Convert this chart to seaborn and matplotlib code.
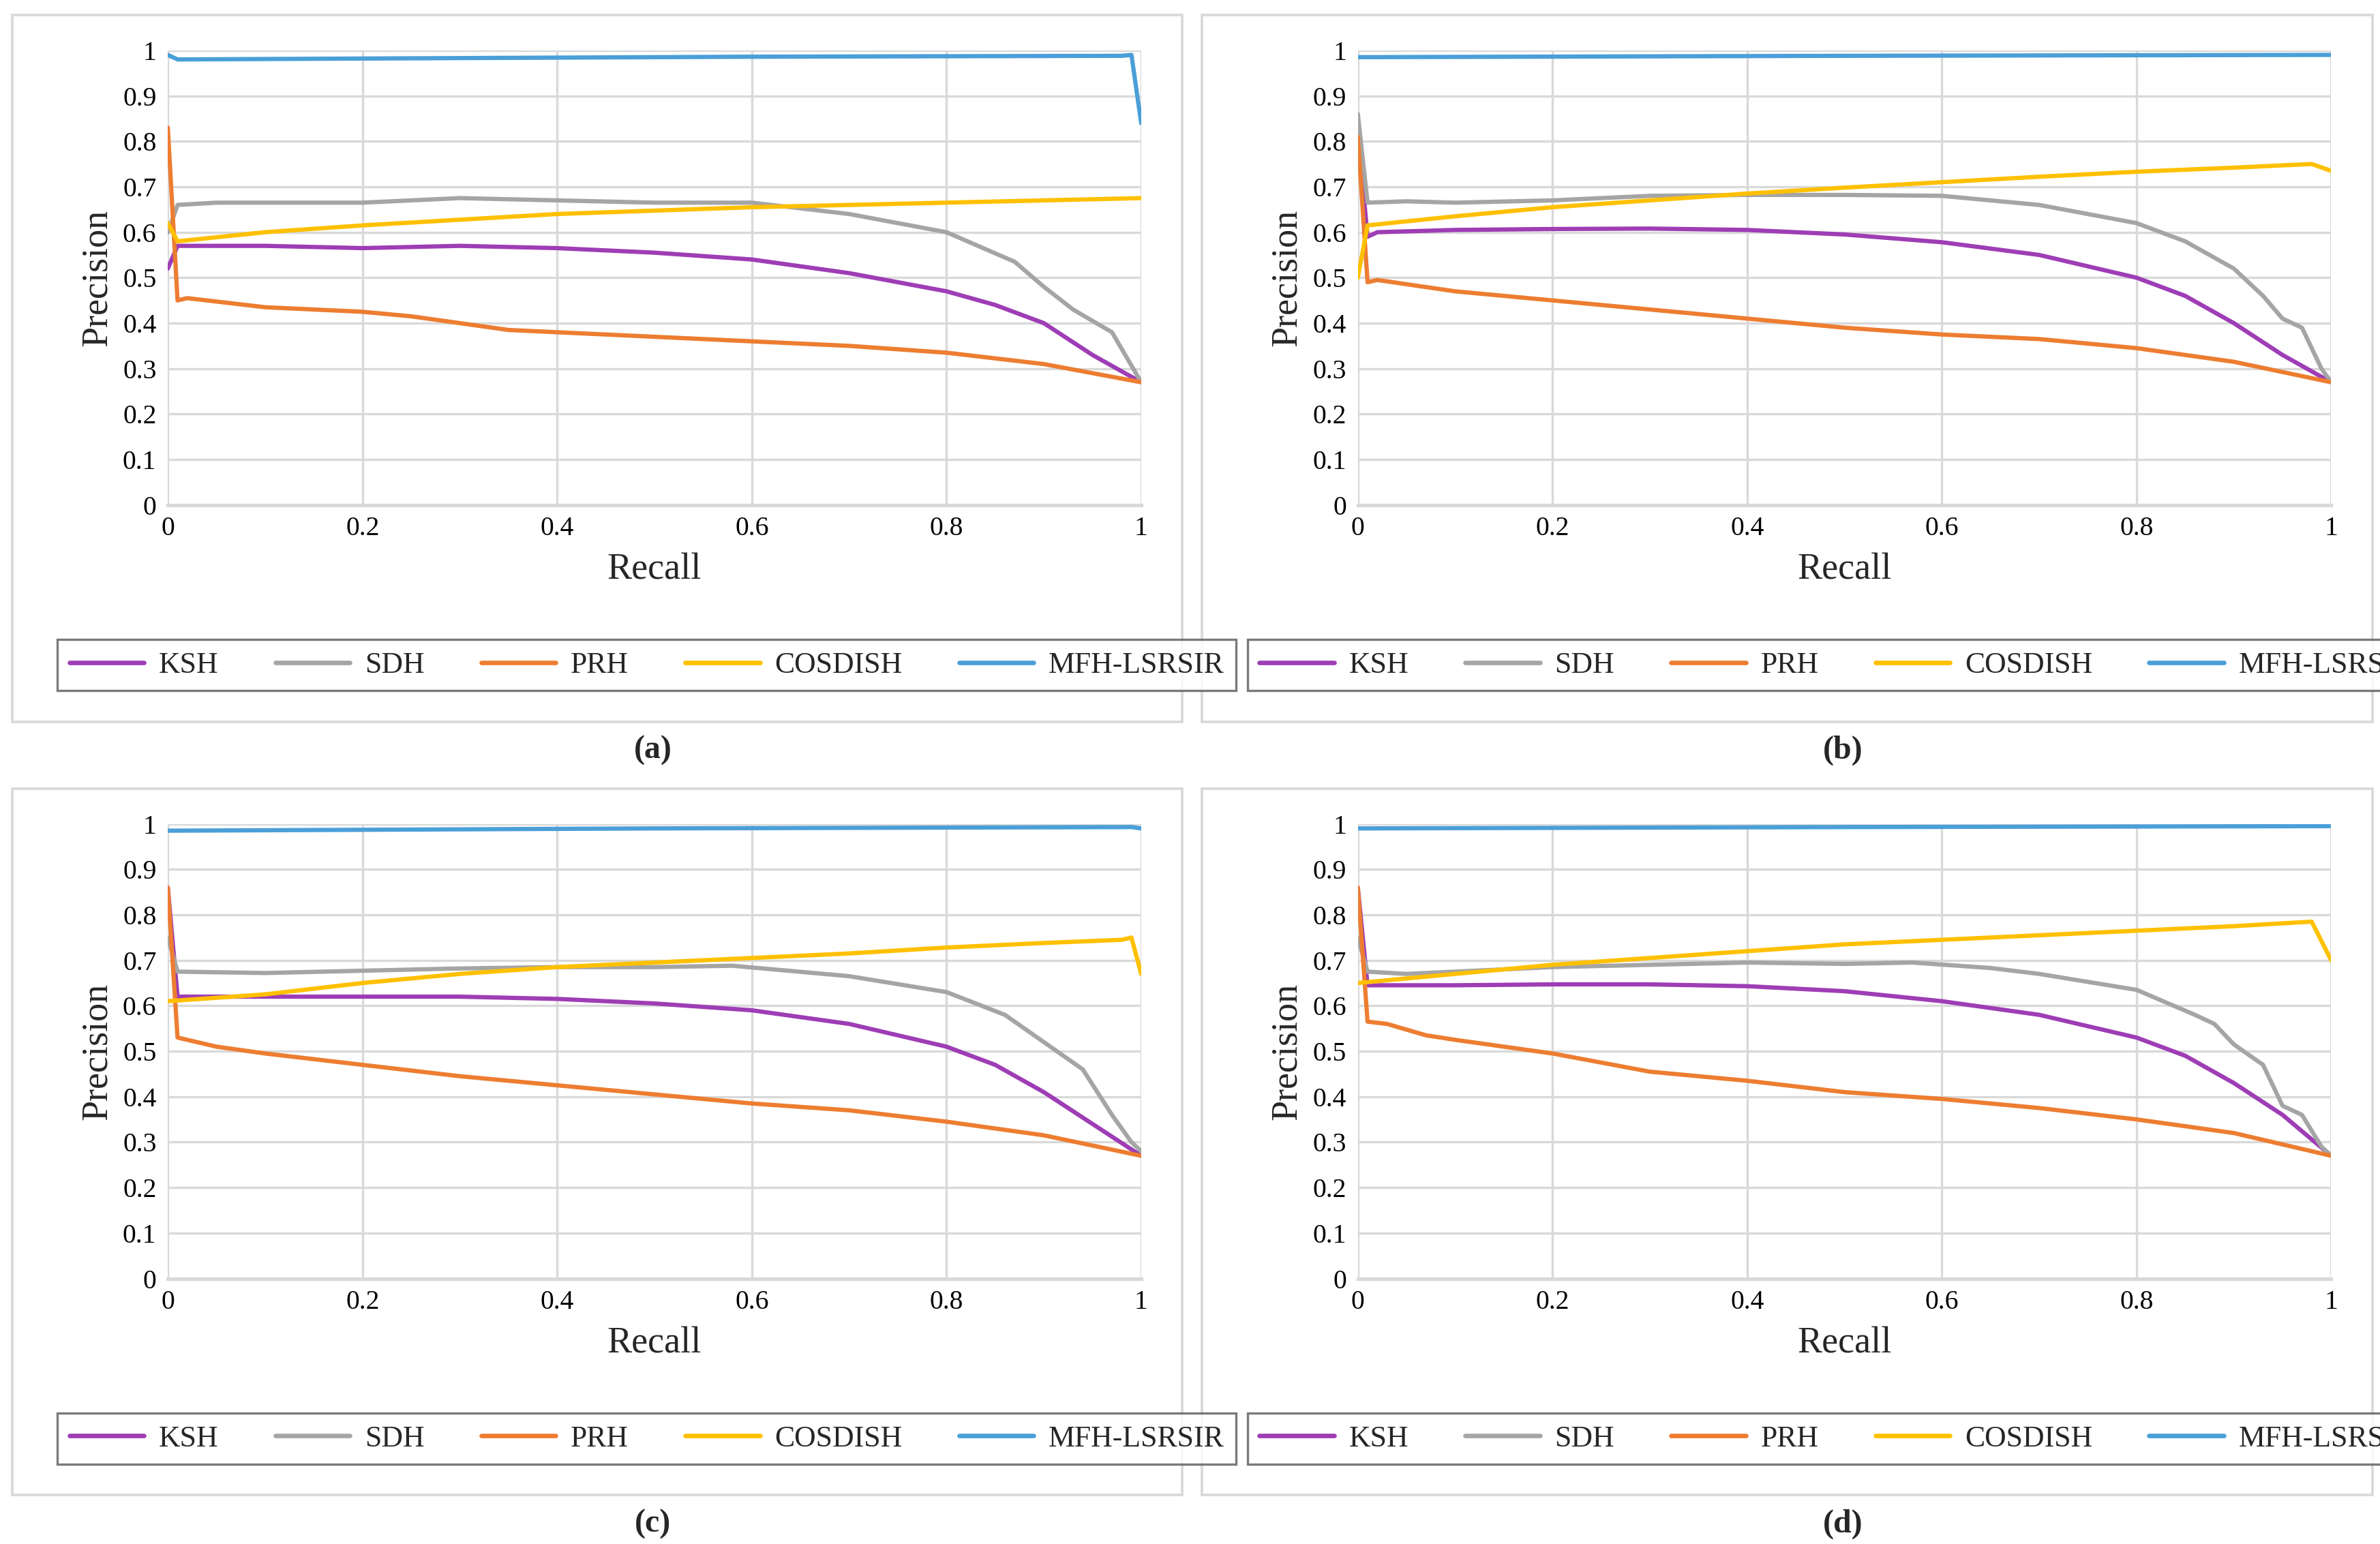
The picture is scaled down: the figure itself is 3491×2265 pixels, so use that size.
import numpy as np
import pandas as pd
import matplotlib.pyplot as plt
import seaborn as sns
from matplotlib.patches import Rectangle

sns.set_theme(style="white")
plt.rcParams['font.family'] = ['Liberation Serif', 'DejaVu Serif']

methods = ['KSH', 'SDH', 'PRH', 'COSDISH', 'MFH-LSRSIR']
colors = {'KSH': '#9E3DB5', 'SDH': '#A5A5A5', 'PRH': '#ED7D31',
          'COSDISH': '#FFC000', 'MFH-LSRSIR': '#4A9FD8'}

# --- data per panel: (recall, precision) ---
a_ksh_r = [0, .01, .05, .1, .2, .3, .4, .5, .6, .7, .8, .85, .9, .95, 1]
a_ksh_p = [.52, .57, .57, .57, .565, .57, .565, .555, .54, .51, .47, .44, .40, .33, .27]
a_sdh_r = [0, .01, .05, .1, .2, .3, .4, .5, .6, .7, .8, .87, .9, .93, .97, 1]
a_sdh_p = [.60, .66, .665, .665, .665, .675, .67, .665, .665, .64, .60, .535, .48, .43, .38, .27]
a_prh_r = [0, .01, .02, .1, .2, .25, .3, .35, .4, .5, .6, .7, .8, .9, 1]
a_prh_p = [.83, .45, .455, .435, .425, .415, .40, .385, .38, .37, .36, .35, .335, .31, .27]
a_cos_r = [0, .01, .1, .2, .4, .6, .8, 1]
a_cos_p = [.62, .58, .60, .615, .64, .655, .665, .675]
a_mfh_r = [0, .01, .2, .6, .98, .99, 1]
a_mfh_p = [.99, .98, .982, .986, .988, .99, .84]

b_ksh_r = [0, .01, .02, .1, .2, .3, .4, .5, .6, .7, .8, .85, .9, .95, 1]
b_ksh_p = [.82, .59, .60, .605, .607, .608, .605, .595, .578, .55, .50, .46, .40, .33, .27]
b_sdh_r = [0, .01, .05, .1, .2, .3, .4, .5, .6, .7, .8, .85, .9, .93, .95, .97, .99, 1]
b_sdh_p = [.86, .665, .668, .665, .67, .68, .682, .682, .68, .66, .62, .58, .52, .46, .41, .39, .30, .27]
b_prh_r = [0, .01, .02, .1, .2, .3, .4, .5, .6, .7, .8, .9, 1]
b_prh_p = [.81, .49, .495, .47, .45, .43, .41, .39, .375, .365, .345, .315, .27]
b_cos_r = [0, .01, .1, .2, .3, .4, .5, .6, .7, .8, .9, .98, 1]
b_cos_p = [.50, .615, .635, .655, .67, .685, .698, .71, .722, .733, .742, .75, .735]
b_mfh_r = [0, .5, 1]
b_mfh_p = [.985, .988, .99]

c_ksh_r = [0, .01, .1, .3, .4, .5, .6, .7, .8, .85, .9, .95, 1]
c_ksh_p = [.86, .62, .62, .62, .615, .605, .59, .56, .51, .47, .41, .34, .27]
c_sdh_r = [0, .01, .1, .2, .3, .4, .5, .58, .7, .8, .86, .9, .94, .97, .99, 1]
c_sdh_p = [.75, .675, .672, .677, .682, .685, .685, .688, .665, .63, .58, .52, .46, .36, .30, .28]
c_prh_r = [0, .01, .02, .05, .1, .2, .3, .4, .5, .6, .7, .8, .9, 1]
c_prh_p = [.86, .53, .525, .51, .495, .47, .445, .425, .405, .385, .37, .345, .315, .27]
c_cos_r = [0, .1, .2, .3, .4, .5, .6, .7, .8, .9, .98, .99, 1]
c_cos_p = [.61, .625, .65, .67, .685, .695, .705, .715, .728, .738, .745, .75, .67]
c_mfh_r = [0, .5, .99, 1]
c_mfh_p = [.985, .99, .993, .99]

d_ksh_r = [0, .01, .1, .2, .3, .4, .5, .6, .7, .8, .85, .9, .95, 1]
d_ksh_p = [.86, .645, .645, .647, .647, .643, .632, .61, .58, .53, .49, .43, .36, .27]
d_sdh_r = [0, .01, .05, .1, .2, .3, .4, .5, .57, .65, .7, .8, .86, .88, .9, .93, .95, .97, .99, 1]
d_sdh_p = [.75, .675, .67, .675, .685, .69, .695, .692, .695, .683, .67, .635, .58, .56, .515, .47, .38, .36, .29, .27]
d_prh_r = [0, .01, .03, .07, .1, .2, .25, .3, .4, .5, .6, .7, .8, .9, 1]
d_prh_p = [.86, .565, .56, .535, .525, .495, .475, .455, .435, .41, .395, .375, .35, .32, .27]
d_cos_r = [0, .1, .2, .3, .4, .5, .6, .7, .8, .9, .98, 1]
d_cos_p = [.65, .67, .69, .705, .72, .735, .745, .755, .765, .775, .785, .70]
d_mfh_r = [0, .5, 1]
d_mfh_p = [.99, .993, .995]

panels = {
    'a': [(a_ksh_r, a_ksh_p), (a_sdh_r, a_sdh_p), (a_prh_r, a_prh_p), (a_cos_r, a_cos_p), (a_mfh_r, a_mfh_p)],
    'b': [(b_ksh_r, b_ksh_p), (b_sdh_r, b_sdh_p), (b_prh_r, b_prh_p), (b_cos_r, b_cos_p), (b_mfh_r, b_mfh_p)],
    'c': [(c_ksh_r, c_ksh_p), (c_sdh_r, c_sdh_p), (c_prh_r, c_prh_p), (c_cos_r, c_cos_p), (c_mfh_r, c_mfh_p)],
    'd': [(d_ksh_r, d_ksh_p), (d_sdh_r, d_sdh_p), (d_prh_r, d_prh_p), (d_cos_r, d_cos_p), (d_mfh_r, d_mfh_p)],
}

W, H = 1560.0, 1012.0
fig = plt.figure(figsize=(3491 / 300, 2265 / 300), dpi=300)

def fx(x): return x / W
def fy(y): return 1 - y / H

offsets = {'a': (0, 0), 'b': (780, 0), 'c': (0, 507), 'd': (780, 507)}

for key, series in panels.items():
    ox, oy = offsets[key]
    # outer border of panel
    fig.patches.append(Rectangle((fx(8 + ox), fy(473 + oy)), fx(767), 463 / H,
                                 transform=fig.transFigure, fill=False,
                                 edgecolor='#D9D9D9', linewidth=0.9))
    ax = fig.add_axes([fx(110 + ox), fy(331 + oy), fx(638), 298 / H])
    rows = []
    for m, (r, p) in zip(methods, series):
        rows += [{'Recall': ri, 'Precision': pi, 'method': m} for ri, pi in zip(r, p)]
    df = pd.DataFrame(rows)
    sns.lineplot(data=df, x='Recall', y='Precision', hue='method', hue_order=methods,
                 palette=colors, linewidth=1.5, ax=ax, legend=False, sort=False,
                 estimator=None)
    ax.set_xlim(0, 1)
    ax.set_ylim(0, 1)
    ax.set_xticks(np.arange(0, 1.01, 0.2))
    ax.set_xticklabels(['0', '0.2', '0.4', '0.6', '0.8', '1'])
    ax.set_yticks(np.arange(0, 1.01, 0.1))
    ax.set_yticklabels(['0'] + [f'{v:.1f}' for v in np.arange(0.1, 0.95, 0.1)] + ['1'])
    ax.grid(True, color='#D9D9D9', linewidth=0.8)
    for s in ['top', 'right', 'left']:
        ax.spines[s].set_visible(False)
    ax.spines['bottom'].set_color('#D9D9D9')
    ax.tick_params(axis='both', labelsize=9.5, length=0, pad=4, colors='black')
    ax.set_xlabel('Recall', fontsize=13, labelpad=4)
    ax.set_ylabel('Precision', fontsize=13, labelpad=3)
    handles = [plt.Line2D([], [], color=colors[m], linewidth=1.6) for m in methods]
    leg = fig.legend(handles, methods, ncol=5, loc='center',
                     bbox_to_anchor=(fx(424 + ox), fy(436 + oy)), fontsize=10.5,
                     frameon=True, fancybox=False, handlelength=2.5, columnspacing=1.9,
                     borderpad=0.4, handletextpad=0.5)
    leg.get_frame().set_edgecolor('#595959')
    leg.get_frame().set_linewidth(0.8)
    fig.text(fx(428 + ox), fy(492 + oy), f'({key})', ha='center', va='center',
             fontsize=11.5, fontweight='bold')

fig.savefig('out.png', dpi=300)
